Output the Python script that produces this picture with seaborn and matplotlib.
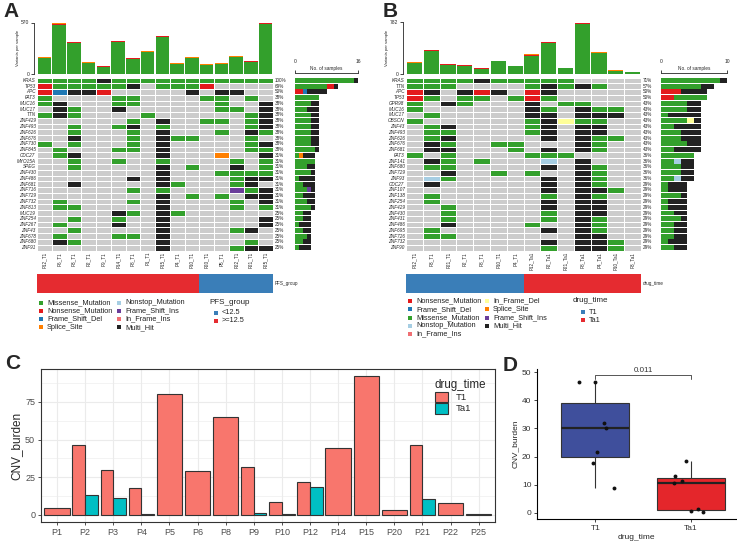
import numpy as np
import pandas as pd
import matplotlib
matplotlib.use('Agg')
import matplotlib.pyplot as plt
from matplotlib.colors import ListedColormap
from matplotlib.patches import Patch
import seaborn as sns

# ---------------- panel A data (PFS_group oncoplot) ----------------
samples_a = ['P12_T1', 'P6_T1', 'P3_T1', 'P2_T1', 'P9_T1', 'P14_T1', 'P8_T1', 'P1_T1',
             'P15_T1', 'P4_T1', 'P10_T1', 'P20_T1', 'P5_T1', 'P22_T1', 'P21_T1', 'P25_T1']
genes_a = ['KRAS', 'TP53', 'APC', 'FAT3', 'MUC16', 'MUC17', 'TTN', 'ZNF429', 'ZNF493', 'ZNF626',
           'ZNF676', 'ZNF730', 'ZNF845', 'CDC27', 'MYO15A', 'SPEG', 'ZNF430', 'ZNF486', 'ZNF681',
           'ZNF716', 'ZNF729', 'ZNF732', 'ZNF813', 'MUC19', 'ZNF254', 'ZNF267', 'ZNF43', 'ZNF678',
           'ZNF680', 'ZNF91']
# one letter per sample: . none, M missense, N nonsense, D frame shift del, S splice site,
# L nonstop, I frame shift ins, F in frame ins, Y in frame del, X multi hit
onco_a = ['MMMMXMMMMMMMMMMM', 'NMMMMMX.MMMN....', 'NDXXN.....X.XX..', 'M....MM....MM.M.',
          'MX...MM.....M..X', '.XM..X......MM.X', 'MXM....M......MX', '......M.X..MM.MX',
          '..M..MX.M.....MX', '..M...M.X...M.XM', '..X...M.XMM...M.', 'M.M...M.X.....MX',
          '.M...MM.X.....MM', '.MX.....X...S..X', '..M..M..M....M.M', '..M.....X.M..X.M',
          '........X...MMMM', '......X.X....MXX', '..X.....XM...MX.', '......M.M....IMX',
          '........X.M.M.XX', '.M....M.X....M.X', '.MM.....X....M.M', '.....XM.XM......',
          '..M..M..X......X', '.M...X..X......X', '..M.....X....MX.', '.M...MM.X.......',
          '.XM.....X.....M.', '........X....MXX']
tmb_missense_a = [169, 538, 342, 117, 77, 349, 164, 237, 406, 106, 172, 96, 106, 183, 132, 550]
tmb_nonsense_a = [7, 17, 9, 5, 3, 9, 5, 6, 9, 4, 5, 3, 4, 4, 4, 12]
tmb_splice_a = [4, 7, 5, 2, 2, 6, 3, 4, 5, 2, 3, 2, 2, 4, 3, 8]
pfs_group = ['>=12.5'] * 11 + ['<12.5'] * 5

# ---------------- panel B data (drug_time oncoplot) ----------------
samples_b = ['P12_T1', 'P3_T1', 'P21_T1', 'P2_T1', 'P8_T1', 'P10_T1', 'P4_T1',
             'P12_Ta1', 'P2_Ta1', 'P21_Ta1', 'P8_Ta1', 'P4_Ta1', 'P10_Ta1', 'P3_Ta1']
genes_b = ['KRAS', 'TTN', 'APC', 'TP53', 'GPR98', 'MUC16', 'MUC17', 'OBSCN', 'ZNF43', 'ZNF493',
           'ZNF626', 'ZNF676', 'ZNF681', 'FAT3', 'ZNF141', 'ZNF680', 'ZNF729', 'ZNF93', 'CDC27',
           'ZNF107', 'ZNF138', 'ZNF254', 'ZNF429', 'ZNF430', 'ZNF431', 'ZNF486', 'ZNF695',
           'ZNF726', 'ZNF732', 'ZNF90']
onco_b = ['MMMMXMMMMM....', 'MMM....MXMXM..', 'NX.XNX.NX.....', 'NM.MM.MNM.....',
          'M.XM...X.MM...', 'M......XM.XMM.', '.M.....XX.XXX.', 'M......MXYMM..',
          '.MX....MX.XX..', '.MM....MX.XX..', '.MX.....X.XMM.', '.XM..MM...XM..',
          '.XX...M.X.XM..', 'M.M....MMM....', '.XM.M...L.X...', '.MM.....X.XM..',
          '..X..M.M..XM..', '.LM.....X.XM..', '.X......X.XM..', '........X.XXM.',
          '.M......M.XM..', '.M......X.XX..', '..M.....X.XX..', '..M.....M.XX..',
          '..M.....M.XM..', '..X....M..XM..', '.M......X.XM..', '.MM.......XX..',
          '........X.XXM.', '........M.XXM.']
tmb_missense_b = [155, 348, 138, 120, 74, 185, 112, 266, 463, 83, 757, 311, 42, 23]
tmb_nonsense_b = [13, 13, 7, 5, 4, 8, 7, 18, 14, 5, 17, 9, 4, 2]
tmb_splice_b = [7, 6, 4, 3, 2, 4, 3, 9, 7, 2, 8, 4, 2, 2]
drug_time_b = ['T1'] * 7 + ['Ta1'] * 7

# ---------------- panel C / D data ----------------
patients = ['P1', 'P2', 'P3', 'P4', 'P5', 'P6', 'P8', 'P9', 'P10', 'P12', 'P14', 'P15',
            'P20', 'P21', 'P22', 'P25']
cnv_t1 = [4.5, 46.5, 30.0, 17.8, 80.0, 29.4, 65.3, 31.8, 8.7, 21.6, 44.5, 92.2, 3.3, 46.5, 8.0, 0.5]
cnv_ta1 = [np.nan, 13.1, 11.4, 0.5, np.nan, np.nan, np.nan, 1.3, 0.2, 18.5, np.nan, np.nan,
           np.nan, 10.5, np.nan, np.nan]
p_value = '0.011'

vc_label = {'M': 'Missense_Mutation', 'N': 'Nonsense_Mutation', 'D': 'Frame_Shift_Del',
            'S': 'Splice_Site', 'L': 'Nonstop_Mutation', 'I': 'Frame_Shift_Ins',
            'F': 'In_Frame_Ins', 'Y': 'In_Frame_Del', 'X': 'Multi_Hit'}
vc_color = {'.': '#CCCCCC', 'M': '#33A02C', 'N': '#E31A1C', 'D': '#1F78B4', 'S': '#FF7F00',
            'L': '#A6CEE3', 'I': '#6A3D9A', 'F': '#EF6F73', 'Y': '#FFFF99', 'X': '#222222'}
code_list = list(vc_color.keys())
onco_cmap = ListedColormap([vc_color[c] for c in code_list])

sns.set_theme(style='ticks')
plt.rcParams['font.family'] = ['Liberation Sans', 'DejaVu Sans']

W, H = 737, 543
fig = plt.figure(figsize=(W / 100, H / 100), dpi=100)


def px_axes(x0, y0, x1, y1):
    return fig.add_axes([x0 / W, 1 - y1 / H, (x1 - x0) / W, (y1 - y0) / H])


overlay = fig.add_axes([0, 0, 1, 1], zorder=5)
overlay.set_xlim(0, W)
overlay.set_ylim(H, 0)
overlay.axis('off')


def oncoplot(x0, x1, sx0, sx1, samples, genes, rows, stack, top_max, side_max, vc_order,
             groups, group_levels, group_cols, group_name):
    n, m = len(samples), len(genes)
    # variants per sample
    ax = px_axes(x0, 22.5, x1, 73.5)
    pos = np.arange(n) + 0.5
    bottom = np.zeros(n)
    for code, vals in stack:
        ax.bar(pos, vals, bottom=bottom, width=0.9, color=vc_color[code], linewidth=0)
        bottom = bottom + np.array(vals)
    ax.set_xlim(0, n)
    ax.set_ylim(0, top_max)
    for s in ['top', 'right', 'bottom']:
        ax.spines[s].set_visible(False)
    ax.spines['left'].set_position(('outward', 2.5))
    ax.spines['left'].set_linewidth(0.6)
    ax.set_xticks([])
    ax.set_yticks([0, top_max])
    ax.tick_params(axis='y', labelsize=3.6, length=2, width=0.6, pad=1)
    ax.set_ylabel('Variants per sample', fontsize=3, labelpad=1)
    ax.patch.set_alpha(0)

    # mutation matrix
    ax = px_axes(x0, 77.5, x1, 250.5)
    codes = np.array([[code_list.index(ch) for ch in r] for r in rows])
    sns.heatmap(codes, cmap=onco_cmap, vmin=-0.5, vmax=len(code_list) - 0.5, linewidths=0.7,
                linecolor='white', cbar=False, xticklabels=samples, yticklabels=genes, ax=ax)
    ax.tick_params(length=0, labelsize=3.3, pad=1)
    plt.setp(ax.get_yticklabels(), style='italic', rotation=0)
    plt.setp(ax.get_xticklabels(), rotation=90)
    for i, r in enumerate(rows):
        cnt = sum(ch != '.' for ch in r)
        ax.text(n + 0.12, i + 0.5, f'{round(cnt / n * 100)}%', fontsize=3.3, va='center')

    # samples per gene
    ax = px_axes(sx0, 77.5, sx1, 250.5)
    left = np.zeros(m)
    for code in vc_order:
        cnt = np.array([r.count(code) for r in rows])
        ax.barh(np.arange(m) + 0.5, cnt, left=left, height=0.85, color=vc_color[code], linewidth=0)
        left = left + cnt
    ax.set_xlim(0, side_max)
    ax.set_ylim(m, 0)
    for s in ['bottom', 'right', 'left']:
        ax.spines[s].set_visible(False)
    ax.spines['top'].set_position(('outward', 3.5))
    ax.spines['top'].set_linewidth(0.6)
    ax.xaxis.tick_top()
    ax.set_xticks([0, side_max])
    ax.set_yticks([])
    ax.tick_params(axis='x', labelsize=3.6, length=2, width=0.6, pad=4.5)
    ax.annotate('No. of samples', xy=(0.5, 1), xycoords='axes fraction', xytext=(0, 4.5),
                textcoords='offset points', ha='center', va='bottom', fontsize=3.4)

    # clinical annotation bar
    ax = px_axes(x0, 274, x1, 293)
    gidx = np.array([[group_levels.index(g) for g in groups]])
    sns.heatmap(gidx, cmap=ListedColormap(group_cols), vmin=-0.5, vmax=len(group_cols) - 0.5,
                cbar=False, xticklabels=False, yticklabels=False, ax=ax)
    ax.text(n + 0.12, 0.5, group_name, fontsize=3.3, va='center')


def onco_legend(col_x, rows_y, vc_order, title_x, title_y, grp_x, grp_y, group_name, levels, cols):
    nrow = len(rows_y)
    for k, code in enumerate(vc_order):
        cx = col_x[k // nrow]
        cy = rows_y[k % nrow]
        overlay.scatter(cx, cy, marker='s', s=7, color=vc_color[code], linewidths=0)
        overlay.text(cx + 6, cy, vc_label[code], fontsize=5.3, va='center', color='#222222')
    overlay.text(title_x, title_y, group_name, fontsize=5.8, va='center', color='#222222')
    for lv, c, gy in zip(levels, cols, grp_y):
        overlay.scatter(grp_x, gy, marker='s', s=7, color=c, linewidths=0)
        overlay.text(grp_x + 6, gy, lv, fontsize=5.3, va='center', color='#222222')


red_grp, blue_grp = '#E52B30', '#3A7EB8'

# ---- panel A ----
order_a = ['M', 'N', 'D', 'S', 'L', 'I', 'F', 'X']
oncoplot(37, 273, 295, 358, samples_a, genes_a, onco_a,
         [('M', tmb_missense_a), ('N', tmb_nonsense_a), ('S', tmb_splice_a)], 570, 16, order_a,
         pfs_group, ['<12.5', '>=12.5'], [blue_grp, red_grp], 'PFS_group')
onco_legend([41, 119], [302.5, 310.8, 319, 327.3], order_a, 209, 302, 216, [312.5, 320.8],
            'PFS_group', ['<12.5', '>=12.5'], [blue_grp, red_grp])

# ---- panel B ----
order_b = ['N', 'D', 'M', 'L', 'F', 'Y', 'S', 'I', 'X']
oncoplot(406, 641, 661, 727, samples_b, genes_b, onco_b,
         [('M', tmb_missense_b), ('N', tmb_nonsense_b), ('S', tmb_splice_b)], 782, 10, order_b,
         drug_time_b, ['T1', 'Ta1'], [blue_grp, red_grp], 'drug_time')
onco_legend([410, 487], [301, 309.3, 317.7, 325.9, 334.2], order_b, 573, 301, 583, [312, 320.3],
            'drug_time', ['T1', 'Ta1'], [blue_grp, red_grp])

# ---- panel C ----
df_c = pd.DataFrame({'patient': patients * 2,
                     'drug_time': ['T1'] * len(patients) + ['Ta1'] * len(patients),
                     'CNV_burden': cnv_t1 + cnv_ta1}).dropna()
n_per = df_c.groupby('patient')['drug_time'].transform('count')
pal_c = {'T1': '#F8766D', 'Ta1': '#00BFC4'}
axc = px_axes(40.7, 369, 495, 522)
sns.barplot(data=df_c[n_per == 2], x='patient', y='CNV_burden', hue='drug_time', order=patients,
            hue_order=['T1', 'Ta1'], palette=pal_c, saturation=1, width=0.9, errorbar=None,
            edgecolor='#333333', linewidth=0.8, legend=False, ax=axc)
sns.barplot(data=df_c[n_per == 1], x='patient', y='CNV_burden', hue='drug_time', order=patients,
            hue_order=['T1', 'Ta1'], palette=pal_c, saturation=1, width=0.9, dodge=False,
            errorbar=None, edgecolor='#333333', linewidth=0.8, legend=False, ax=axc)
axc.set_xlim(-0.58, len(patients) - 0.42)
axc.set_ylim(-4.8, 96.9)
axc.set_yticks([0, 25, 50, 75])
axc.set_yticks([12.5, 37.5, 62.5, 87.5], minor=True)
axc.grid(True, which='major', color='#EBEBEB', lw=0.8)
axc.grid(True, which='minor', axis='y', color='#EBEBEB', lw=0.4)
axc.set_axisbelow(True)
for s in axc.spines.values():
    s.set_color('#333333')
    s.set_linewidth(0.8)
axc.tick_params(axis='both', which='major', labelsize=6.5, labelcolor='#4D4D4D', color='#333333',
                length=2.5, width=0.6, pad=1.5)
axc.tick_params(axis='y', which='minor', length=0)
axc.set_xlabel('')
axc.set_ylabel('CNV_burden', fontsize=8.5, labelpad=2)
handles = [Patch(facecolor=pal_c[k], edgecolor='#333333', linewidth=0.8) for k in ['T1', 'Ta1']]
axc.legend(handles, ['T1', 'Ta1'], title='drug_time', loc='upper right', frameon=False,
           fontsize=6.8, title_fontsize=8.3, handlelength=1.4, handleheight=1.4,
           labelspacing=0.05, bbox_to_anchor=(1.0, 0.99), alignment='left')

# ---- panel D ----
paired = ~np.isnan(np.array(cnv_ta1))
df_d = pd.DataFrame({'drug_time': ['T1'] * paired.sum() + ['Ta1'] * paired.sum(),
                     'CNV_burden': list(np.array(cnv_t1)[paired]) + list(np.array(cnv_ta1)[paired])})
axd = px_axes(537, 369, 736, 519)
sns.boxplot(data=df_d, x='drug_time', y='CNV_burden', hue='drug_time',
            palette={'T1': '#3F4F9C', 'Ta1': '#E4262B'}, saturation=1, width=0.71, showcaps=False,
            fliersize=0, linecolor='#333333', linewidth=0.8, legend=False,
            medianprops=dict(linewidth=1.6, color='#222222'), ax=axd)
np.random.seed(7)
sns.stripplot(data=df_d, x='drug_time', y='CNV_burden', color='#111111', size=2.8, jitter=0.2, ax=axd)
axd.set_xlim(-0.61, 1.47)
axd.set_ylim(-2.25, 51.2)
axd.set_yticks([0, 10, 20, 30, 40, 50])
axd.plot([0, 0, 1, 1], [47.6, 49, 49, 47.6], color='#555555', lw=0.7)
axd.text(0.5, 49.5, p_value, ha='center', va='bottom', fontsize=5.8, color='#333333')
sns.despine(ax=axd)
for s in ['left', 'bottom']:
    axd.spines[s].set_color('black')
    axd.spines[s].set_linewidth(0.8)
axd.tick_params(labelsize=6, labelcolor='#333333', length=2.5, width=0.6, pad=1.5)
axd.set_xlabel('drug_time', fontsize=6, labelpad=2)
axd.set_ylabel('CNV_burden', fontsize=6, labelpad=2)

# panel letters
for lab, x, y in [('A', 3, 2), ('B', 383, 2), ('C', 5, 354), ('D', 503, 356)]:
    fig.text(x / W, 1 - y / H, lab, fontsize=15, fontweight='bold', va='top', ha='left')

fig.savefig('out.png', dpi=100)
